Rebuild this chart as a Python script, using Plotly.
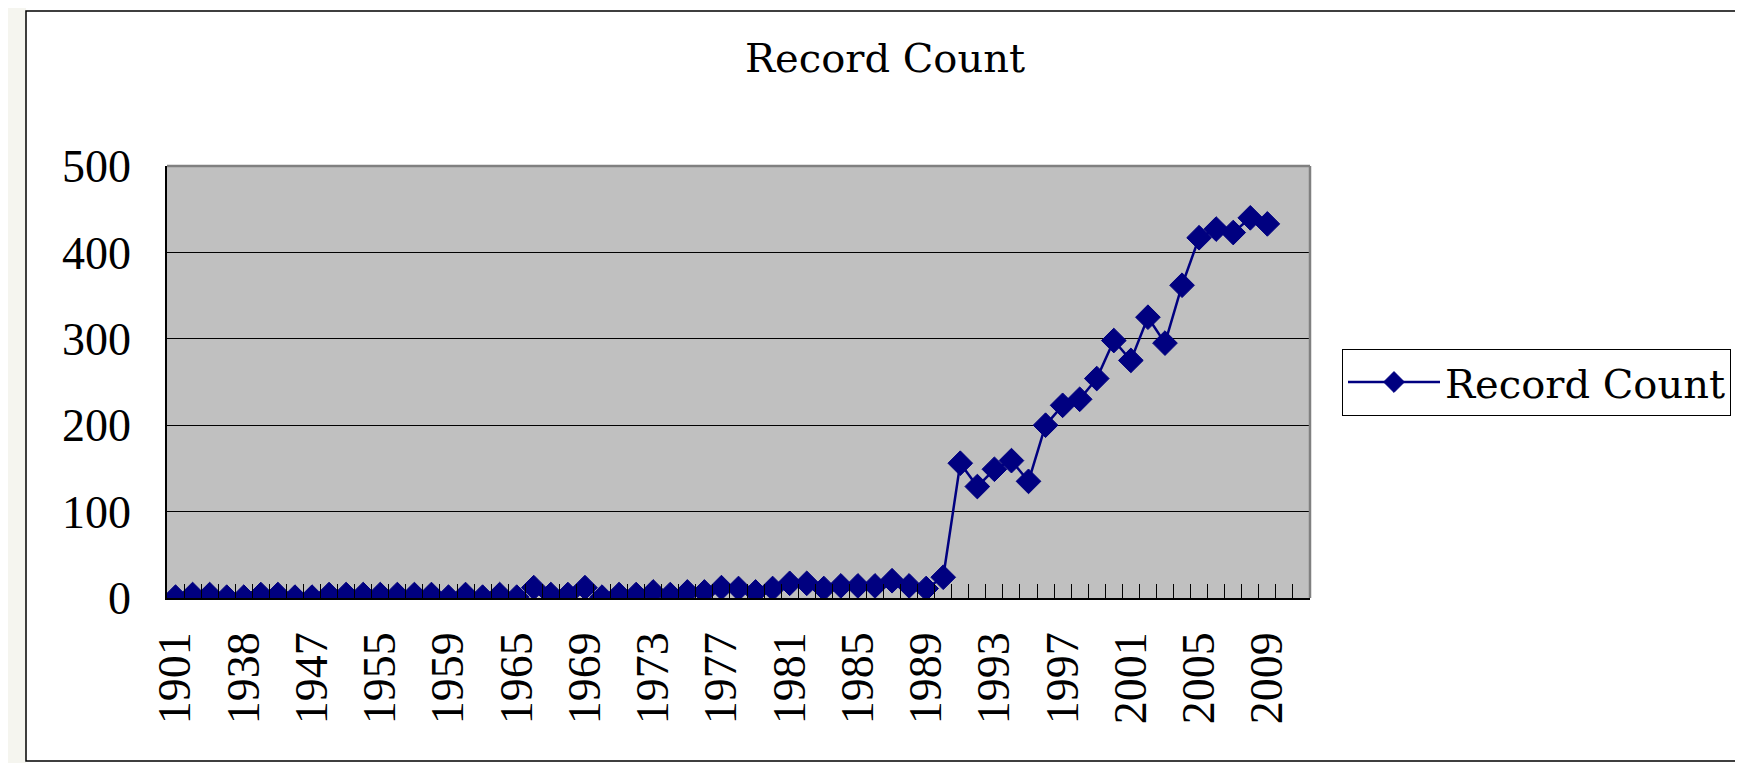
import plotly.graph_objects as go

# ---- data -------------------------------------------------------------
years = ["1901", "1913", "1926", "1934", "1938", "1940", "1942", "1945",
         "1947", "1949", "1951", "1953", "1955", "1956", "1957", "1958",
         "1959", "1961", "1962", "1964"] + [str(y) for y in range(1965, 2012)]

record_count = [1, 4, 4, 1, 1, 4, 4, 1, 1, 4, 4, 4, 4, 4, 4, 4,
                1, 4, 1, 4, 1, 12, 4, 4, 12, 1, 4, 4, 7, 4, 7, 7, 12,
                11, 7, 11, 17, 17, 11, 14, 14, 14, 20, 14, 11, 24,
                156, 129, 149, 159, 135, 200, 223, 230, 254, 298, 275, 325,
                295, 362, 417, 427, 423, 440, 433,
                None, None]

series_name = "Record Count"
title_text = "Record Count"
y_ticks = [0, 100, 200, 300, 400, 500]
label_every = 4

tick_text = [y if i % label_every == 0 else "" for i, y in enumerate(years)]

# ---- figure -----------------------------------------------------------
W, H = 1743, 763
OFF = 8                     # page body margin
L, T = 159, 158
PW, PH = 1143, 432
R = W - L - PW
B = H - T - PH

def px_x(xs):
    return (xs - OFF - L) / PW
def px_y(ys):
    return (T + PH - (ys - OFF)) / PH

fig = go.Figure()
fig.add_trace(go.Scatter(
    x=years, y=record_count, name=series_name, mode="lines+markers",
    line=dict(color="#000080", width=2.5),
    marker=dict(symbol="diamond", size=19, color="#000080",
                line=dict(color="#000080", width=1)),
    connectgaps=False,
))

serif = "Liberation Serif, Times New Roman, serif"
title_font = "DejaVu Serif, serif"

fig.update_layout(
    width=W, height=H,
    margin=dict(l=L, r=R, t=T, b=B, autoexpand=False),
    paper_bgcolor="white",
    plot_bgcolor="#C0C0C0",
    font=dict(family=serif, size=46, color="black"),
    title=dict(text=title_text, x=(885 - OFF) / W, xanchor="center", xref="container",
               y=1 - (58 - OFF) / H, yanchor="middle", yref="container",
               font=dict(family=title_font, size=40, color="black")),
    showlegend=True,
    legend=dict(x=px_x(1342), xanchor="left", y=px_y(382), yanchor="middle",
                bgcolor="white", bordercolor="black", borderwidth=1,
                font=dict(family=title_font, size=40, color="black"),
                itemwidth=92),
    xaxis=dict(
        type="category", categoryorder="array", categoryarray=years,
        range=[-0.5, len(years) - 0.5],
        tickmode="array", tickvals=years, ticktext=tick_text,
        tickson="boundaries", ticks="inside", ticklen=14,
        tickcolor="black", tickwidth=1,
        tickangle=-90, ticklabelstandoff=14,
        showgrid=False, showline=True, linecolor="black", linewidth=1.5,
        zeroline=False, fixedrange=True,
    ),
    yaxis=dict(
        range=[0, 500], tickmode="array", tickvals=y_ticks,
        ticks="inside", ticklen=14, tickcolor="black", tickwidth=1,
        ticklabelstandoff=25,
        showgrid=True, gridcolor="black", gridwidth=1,
        showline=True, linecolor="black", linewidth=1.5,
        zeroline=False, fixedrange=True,
    ),
)

# plot area border (gray top/right)
fig.add_shape(type="line", xref="paper", yref="paper", x0=0, x1=1, y0=1, y1=1,
              line=dict(color="#808080", width=2.5))
fig.add_shape(type="line", xref="paper", yref="paper", x0=1, x1=1, y0=0, y1=1,
              line=dict(color="#808080", width=2.5))
# left strip of the spreadsheet behind the chart
fig.add_shape(type="rect", xref="paper", yref="paper", layer="below",
              x0=px_x(OFF), x1=px_x(26), y0=px_y(H), y1=px_y(OFF),
              fillcolor="#F5F5EF", line=dict(width=0))
# chart outer frame
fig.add_shape(type="rect", xref="paper", yref="paper", layer="below",
              x0=px_x(26), x1=px_x(1741), y0=px_y(761), y1=px_y(11),
              fillcolor="rgba(0,0,0,0)", line=dict(color="black", width=1.5))

fig.write_html("out.html")
